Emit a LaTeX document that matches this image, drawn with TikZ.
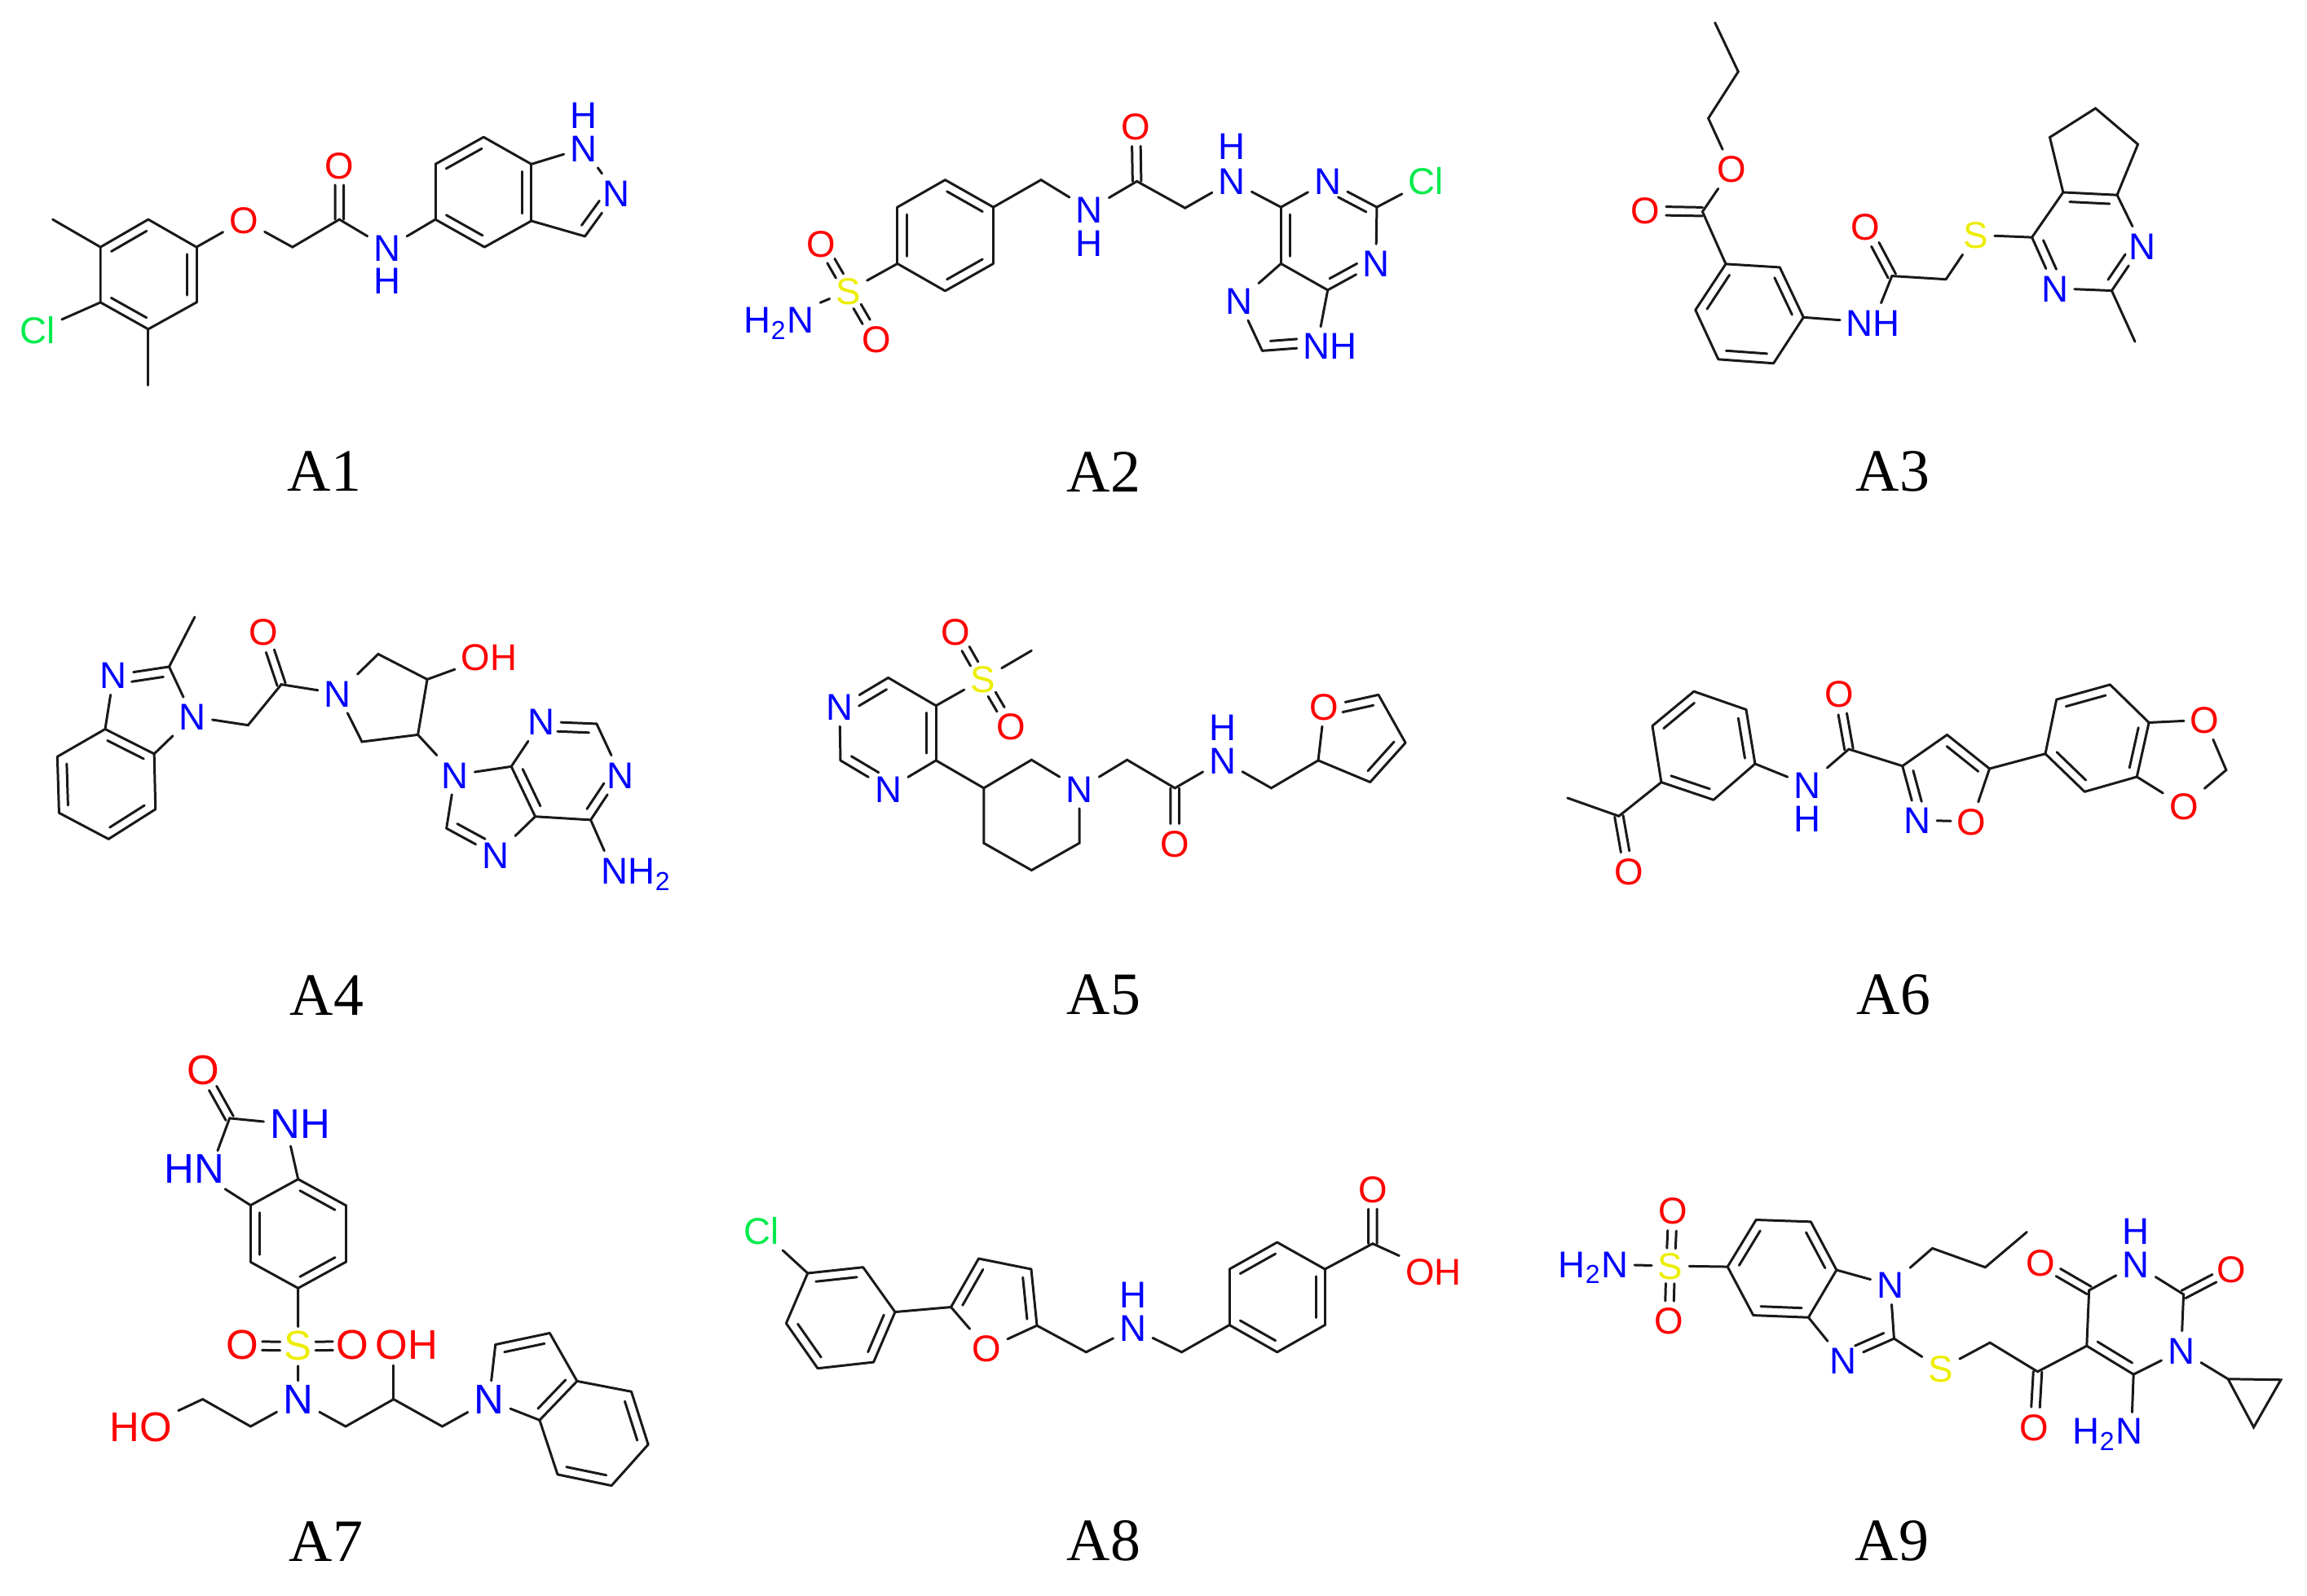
\documentclass[tikz,border=0pt]{standalone}
\usepackage{fontspec}
\setmainfont{Liberation Sans}
\newfontfamily\molfont{Liberation Serif}
\usetikzlibrary{calc}
\definecolor{oxyred}{rgb}{1,0,0}
\definecolor{nitblue}{rgb}{0,0,1}
\definecolor{sulyellow}{rgb}{.93,.93,0}
\definecolor{chlgreen}{rgb}{0,.92,.3}
\def\atomsize{13}
\def\rgap{3.2pt}
\def\cogap{1.5pt}
\tikzset{
  bond/.style={line width=.85pt,line cap=round,color=black!90},
  atom/.style={inner sep=2pt,text height=9.3pt,text depth=0pt,font=\fontsize{\atomsize}{\atomsize}\selectfont},
  oxy/.style={atom,text=oxyred},
  nit/.style={atom,text=nitblue},
  sul/.style={atom,text=sulyellow},
  chl/.style={atom,text=chlgreen},
  molname/.style={font=\molfont\fontsize{21}{21}\selectfont,text=black}
}
% double bonds, the short line on the right or the left of a->b
\newcommand{\dblr}[3][.13]{\draw[bond] (#2) -- (#3);
  \draw[bond] ($(#2)!.13!(#3)!\rgap!-90:(#3)$) -- ($(#3)!#1!(#2)!\rgap!90:(#2)$);}
\newcommand{\dbll}[3][.13]{\draw[bond] (#2) -- (#3);
  \draw[bond] ($(#2)!.13!(#3)!\rgap!90:(#3)$) -- ($(#3)!#1!(#2)!\rgap!-90:(#2)$);}
\newcommand{\dblc}[3][0]{%
  \draw[bond] ($(#2)!#1!(#3)!\cogap!90:(#3)$) -- ($(#3)!.36!(#2)!\cogap!-90:(#2)$);
  \draw[bond] ($(#2)!#1!(#3)!\cogap!-90:(#3)$) -- ($(#3)!.36!(#2)!\cogap!90:(#2)$);}
\begin{document}
\begin{tikzpicture}
[]
\useasboundingbox (0,-19.57) rectangle (28.3,0);

\foreach \t/\x/\y in {A1/3.98/-5.78,A2/13.54/-5.79,A3/23.22/-5.78,A4/4.01/-12.21,A5/13.54/-12.2,A6/23.23/-12.2,A7/4/-18.91,A8/13.54/-18.9,A9/23.21/-18.9}
  \node[molname] (\t) at (\x,\y) {\t};

%A1
\begin{scope}[shift={(0,-.8)},x=.005485cm,y=-.003571cm]
\foreach \n/\x/\y in {1/332/530,2/440/625,3/440/815,4/332/907,5/225/815,6/225/625,7/118/530,8/332/1100,9/655/625,10/760/530,11/975/530,12/1085/625,13/1190/535,14/1190/340,15/1083/247,16/975/340,17/1310/588}
  \coordinate (m1c\n) at (\x,\y);
\node[chl] (m1cl) at (85,910) {Cl};
\node[oxy] (m1o1) at (546,533) {O};
\node[oxy] (m1o2) at (760,345) {O};
\node[nit] (m1n1) at (867,628) {N};
\node[nit] (m1h1) at (867,740) {H};
\node[nit] (m1n2) at (1307,285) {N};
\node[nit] (m1h2) at (1307,172) {H};
\node[nit] (m1n3) at (1380,440) {N};
\dblr{m1c6}{m1c1}
\dblr{m1c2}{m1c3}
\dblr{m1c4}{m1c5}
\draw[bond] (m1c1) -- (m1c2);
\draw[bond] (m1c3) -- (m1c4);
\draw[bond] (m1c5) -- (m1c6) -- (m1c7);
\draw[bond] (m1c4) -- (m1c8);
\draw[bond] (m1c5) -- (m1cl);
\draw[bond] (m1c2) -- (m1o1) -- (m1c9) -- (m1c10) -- (m1n1) -- (m1c11);
\dblc{m1c10}{m1o2}
\dblr{m1c12}{m1c11}
\dblr{m1c14}{m1c13}
\dblr{m1c16}{m1c15}
\draw[bond] (m1c12) -- (m1c13);
\draw[bond] (m1c14) -- (m1c15);
\draw[bond] (m1c16) -- (m1c11);
\draw[bond] (m1c14) -- (m1n2) -- (m1n3);
\dbll[.3]{m1c17}{m1n3}
\draw[bond] (m1c17) -- (m1c13);
\end{scope}

%A2
\begin{scope}[shift={(8.8,-1)},x=.00574cm,y=-.003444cm]
\foreach \n/\x/\y in {1/487/350,2/590/447,3/590/648,4/487/745,5/385/648,6/385/447,7/692/350,8/897/355,9/1000/450,10/1205/447,11/1205/648,12/1305/742,13/1410/447,14/1165/958}
  \coordinate (m2c\n) at (\x,\y);
\coordinate (m2e) at (1290,872);
\node[sul] (m2s) at (280,745) {S};
\node[oxy] (m2o1) at (222,578) {O};
\node[oxy] (m2o2) at (340,917) {O};
\node[oxy] (m2o3) at (895,160) {O};
\node[nit] (m2am) at (132,848) {H\textsubscript{2}N};
\node[nit] (m2n1) at (795,455) {N};
\node[nit] (m2h1) at (795,575) {H};
\node[nit] (m2n2) at (1100,355) {N};
\node[nit] (m2h2) at (1100,230) {H};
\node[nit] (m2n3) at (1305,355) {N};
\node[nit] (m2n4) at (1408,648) {N};
\node[nit] (m2n5) at (1115,780) {N};
\node[nit] (m2nh) at (1310,940) {NH};
\node[chl] (m2cl) at (1515,355) {Cl};
\dblr{m2c1}{m2c2}
\dblr{m2c3}{m2c4}
\dblr{m2c5}{m2c6}
\draw[bond] (m2c2) -- (m2c3);
\draw[bond] (m2c4) -- (m2c5);
\draw[bond] (m2c6) -- (m2c1);
\draw[bond] (m2am) -- (m2s) -- (m2c5);
\dblc[.32]{m2s}{m2o1}
\dblc[.32]{m2s}{m2o2}
\draw[bond] (m2c2) -- (m2c7) -- (m2n1) -- (m2c8) -- (m2c9) -- (m2n2) -- (m2c10) -- (m2n3);
\dblc{m2c8}{m2o3}
\dblr{m2c11}{m2c10}
\dbll[.3]{m2c13}{m2n3}
\dbll[.3]{m2c12}{m2n4}
\draw[bond] (m2c13) -- (m2n4);
\draw[bond] (m2c13) -- (m2cl);
\draw[bond] (m2c12) -- (m2c11) -- (m2n5) -- (m2c14);
\dbll[.48]{m2c14}{m2nh}
\draw[bond] (m2c12) -- (m2e);
\end{scope}

%A3
\begin{scope}[shift={(19.6,0)},x=.005102cm,y=-.004082cm]
\foreach \n/\x/\y in {1/282/68,2/338/215,3/266/355,4/252/635,5/308/792,6/438/802,7/495/952,8/423/1090,9/290/1078,10/235/930,11/708/828,12/838/838,13/1045/712,14/1120/577,15/1250/585,16/1237/872,17/1293/1025,18/1088/412,19/1198/325,20/1300/433}
  \coordinate (m3c\n) at (\x,\y);
\node[oxy] (m3o1) at (322,507) {O};
\node[oxy] (m3o2) at (115,632) {O};
\node[oxy] (m3o3) at (645,680) {O};
\node[nit] (m3nh) at (663,968) {NH};
\node[sul] (m3s) at (910,705) {S};
\node[nit] (m3n1) at (1100,865) {N};
\node[nit] (m3n2) at (1310,738) {N};
\draw[bond] (m3c1) -- (m3c2) -- (m3c3) -- (m3o1) -- (m3c4) -- (m3c5) -- (m3c6);
\dblc{m3c4}{m3o2}
\dblr{m3c6}{m3c7}
\dblr{m3c8}{m3c9}
\dblr{m3c10}{m3c5}
\draw[bond] (m3c7) -- (m3c8);
\draw[bond] (m3c9) -- (m3c10);
\draw[bond] (m3c7) -- (m3nh) -- (m3c11) -- (m3c12) -- (m3s) -- (m3c13) -- (m3c14);
\dblc{m3c11}{m3o3}
\dbll[.3]{m3c13}{m3n1}
\dblr{m3c14}{m3c15}
\dbll[.3]{m3c16}{m3n2}
\draw[bond] (m3c15) -- (m3n2);
\draw[bond] (m3n1) -- (m3c16) -- (m3c17);
\draw[bond] (m3c14) -- (m3c18) -- (m3c19) -- (m3c20) -- (m3c15);
\end{scope}

%A4
\begin{scope}[shift={(.4,-7.3)},x=.00523cm,y=-.003444cm]
\foreach \n/\x/\y in {1/170/477,2/285/565,3/288/762,4/178/868,5/62/775,6/58/575,7/320/255,8/380/78,9/505/463,10/583/318,11/810/210,12/925/300,13/903/497,14/772/522,15/1122/610,16/1178/788,17/1308/800,18/1322/458,19/970/830}
  \coordinate (m4c\n) at (\x,\y);
\coordinate (m4e) at (1340,910);
\node[nit] (m4n1) at (190,285) {N};
\node[nit] (m4n2) at (375,433) {N};
\node[oxy] (m4o1) at (542,132) {O};
\node[nit] (m4n3) at (715,350) {N};
\node[oxy] (m4oh) at (1070,220) {OH};
\node[nit] (m4n4) at (990,640) {N};
\node[nit] (m4n5) at (1192,450) {N};
\node[nit] (m4n6) at (1378,640) {N};
\node[nit] (m4n7) at (1085,925) {N};
\node[nit] (m4am) at (1415,980) {NH\textsubscript{2}};
\dblr{m4c1}{m4c2}
\dblr{m4c3}{m4c4}
\dblr{m4c5}{m4c6}
\draw[bond] (m4c2) -- (m4c3);
\draw[bond] (m4c4) -- (m4c5);
\draw[bond] (m4c6) -- (m4c1) -- (m4n1);
\dbll[.3]{m4c7}{m4n1}
\draw[bond] (m4c8) -- (m4c7) -- (m4n2) -- (m4c2);
\draw[bond] (m4n2) -- (m4c9) -- (m4c10) -- (m4n3);
\dblc{m4c10}{m4o1}
\draw[bond] (m4n3) -- (m4c11) -- (m4c12) -- (m4c13) -- (m4c14) -- (m4n3);
\draw[bond] (m4c12) -- (m4oh);
\draw[bond] (m4c13) -- (m4n4) -- (m4c15) -- (m4n5);
\dblr{m4c16}{m4c15}
\dbll[.3]{m4c18}{m4n5}
\draw[bond] (m4c18) -- (m4n6);
\dbll[.3]{m4c17}{m4n6}
\draw[bond] (m4c17) -- (m4c16) -- (m4n7);
\draw[bond] (m4c17) -- (m4e);
\draw[bond] (m4n4) -- (m4c19);
\dbll[.3]{m4c19}{m4n7}
\end{scope}

%A5
\begin{scope}[shift={(9.8,-7.3)},x=.005102cm,y=-.003333cm]
\foreach \n/\x/\y in {1/215/305,2/330/408,3/330/610,4/100/610,5/445/712,6/560/608,7/445/915,8/560/1015,9/675/915,10/790/608,11/905/712,12/1137/712,13/1250/610,14/1375/690,15/1460/545,16/1395/368,17/560/205}
  \coordinate (m5c\n) at (\x,\y);
\node[nit] (m5n1) at (98,412) {N};
\node[nit] (m5n2) at (215,715) {N};
\node[sul] (m5s) at (443,310) {S};
\node[oxy] (m5o1) at (378,135) {O};
\node[oxy] (m5o2) at (510,485) {O};
\node[nit] (m5n3) at (675,715) {N};
\node[oxy] (m5o3) at (905,918) {O};
\node[nit] (m5n4) at (1020,610) {N};
\node[nit] (m5h) at (1020,487) {H};
\node[oxy] (m5o4) at (1265,412) {O};
\dbll[.3]{m5c1}{m5n1}
\dblr{m5c2}{m5c3}
\dbll[.3]{m5c4}{m5n2}
\draw[bond] (m5c1) -- (m5c2) -- (m5s) -- (m5c17);
\draw[bond] (m5c3) -- (m5n2);
\draw[bond] (m5c4) -- (m5n1);
\dblc[.32]{m5s}{m5o1}
\dblc[.32]{m5s}{m5o2}
\draw[bond] (m5c3) -- (m5c5) -- (m5c6) -- (m5n3) -- (m5c9) -- (m5c8) -- (m5c7) -- (m5c5);
\draw[bond] (m5n3) -- (m5c10) -- (m5c11) -- (m5n4) -- (m5c12) -- (m5c13) -- (m5o4);
\dblc{m5c11}{m5o3}
\dbll[.3]{m5c16}{m5o4}
\draw[bond] (m5c16) -- (m5c15);
\dblr{m5c15}{m5c14}
\draw[bond] (m5c14) -- (m5c13);
\end{scope}

%A6
\begin{scope}[shift={(18.9,-8)},x=.005485cm,y=-.003333cm]
\foreach \n/\x/\y in {1/343/145,2/460/212,3/480/412,4/387/545,5/270/480,6/250/272,7/175/605,8/60/538,9/690/358,10/810/420,11/910/305,12/1005/430,13/1130/375,14/1155/175,15/1275/120,16/1362/260,17/1335/460,18/1218/515,19/1535/435}
  \coordinate (m6c\n) at (\x,\y);
\node[oxy] (m6o1) at (197,810) {O};
\node[nit] (m6n1) at (597,490) {N};
\node[nit] (m6h1) at (597,615) {H};
\node[oxy] (m6o2) at (668,155) {O};
\node[nit] (m6n2) at (843,620) {N};
\node[oxy] (m6o3) at (965,625) {O};
\node[oxy] (m6o4) at (1487,250) {O};
\node[oxy] (m6o5) at (1440,568) {O};
\dblr{m6c2}{m6c3}
\dblr{m6c4}{m6c5}
\dblr{m6c6}{m6c1}
\draw[bond] (m6c1) -- (m6c2);
\draw[bond] (m6c3) -- (m6c4);
\draw[bond] (m6c5) -- (m6c6);
\draw[bond] (m6c5) -- (m6c7) -- (m6c8);
\dblc{m6c7}{m6o1}
\draw[bond] (m6c3) -- (m6n1) -- (m6c9) -- (m6c10) -- (m6c11);
\dblc{m6c9}{m6o2}
\dblr{m6c11}{m6c12}
\dbll[.3]{m6c10}{m6n2}
\draw[bond] (m6n2) -- (m6o3) -- (m6c12) -- (m6c13) -- (m6c14);
\dblr{m6c14}{m6c15}
\dblr{m6c16}{m6c17}
\dblr{m6c18}{m6c13}
\draw[bond] (m6c15) -- (m6c16);
\draw[bond] (m6c17) -- (m6c18);
\draw[bond] (m6c16) -- (m6o4) -- (m6c19) -- (m6o5) -- (m6c17);
\end{scope}

%A7
\begin{scope}[shift={(1.2,-12.8)},x=.004592cm,y=-.004273cm]
\def\atomsize{14.5}
\foreach \n/\x/\y in {1/535/390,2/662/465,3/662/628,4/535/703,5/408/628,6/408/465,7/352/215,8/408/1100,9/280/1022,10/662/1100,11/790/1022,12/920/1100,13/1062/865,14/1207/832,15/1280/970,16/1180/1082,17/1425/1000,18/1470/1152,19/1372/1270,20/1228/1238}
  \coordinate (m7c\n) at (\x,\y);
\coordinate (m7e1) at (320,308);
\coordinate (m7e2) at (515,295);
\coordinate (m7e3) at (790,925);
\node[oxy] (m7o1) at (282,80) {O};
\node[nit] (m7nh) at (540,235) {NH};
\node[nit] (m7hn) at (258,362) {HN};
\node[sul] (m7s) at (535,870) {S};
\node[oxy] (m7o2) at (385,868) {O};
\node[oxy] (m7o3) at (680,868) {O};
\node[nit] (m7n1) at (535,1025) {N};
\node[oxy] (m7oh) at (825,868) {OH};
\node[oxy] (m7ho) at (115,1105) {HO};
\node[nit] (m7n2) at (1045,1025) {N};
\dblr{m7c1}{m7c2}
\dblr{m7c3}{m7c4}
\dblr{m7c5}{m7c6}
\draw[bond] (m7c2) -- (m7c3);
\draw[bond] (m7c4) -- (m7c5);
\draw[bond] (m7c6) -- (m7c1) -- (m7e2);
\draw[bond] (m7c6) -- (m7hn);
\draw[bond] (m7e1) -- (m7c7) -- (m7nh);
\dblc{m7c7}{m7o1}
\draw[bond] (m7c4) -- (m7s) -- (m7n1) -- (m7c8) -- (m7c9) -- (m7ho);
\dblc[.32]{m7s}{m7o2}
\dblc[.32]{m7s}{m7o3}
\draw[bond] (m7n1) -- (m7c10) -- (m7c11) -- (m7c12) -- (m7n2) -- (m7c13);
\draw[bond] (m7c11) -- (m7e3);
\dblr{m7c13}{m7c14}
\draw[bond] (m7c14) -- (m7c15);
\dblr{m7c15}{m7c16}
\draw[bond] (m7c16) -- (m7n2);
\draw[bond] (m7c15) -- (m7c17);
\dblr{m7c17}{m7c18}
\draw[bond] (m7c18) -- (m7c19);
\dblr{m7c19}{m7c20}
\draw[bond] (m7c20) -- (m7c16);
\end{scope}

%A8
\begin{scope}[shift={(8.9,-14)},x=.005867cm,y=-.003333cm]
\foreach \n/\x/\y in {1/172/487,2/288/465,3/355/630,4/310/815,5/193/838,6/127/672,7/472/612,8/530/433,9/640/472,10/652/680,11/755/778,12/955/778,13/1055/678,14/1055/472,15/1155/373,16/1255/472,17/1255/678,18/1155/778,19/1355/378}
  \coordinate (m8c\n) at (\x,\y);
\node[chl] (m8cl) at (75,330) {Cl};
\node[oxy] (m8o1) at (547,765) {O};
\node[nit] (m8n1) at (853,690) {N};
\node[nit] (m8h1) at (853,565) {H};
\node[oxy] (m8o2) at (1355,178) {O};
\node[oxy] (m8oh) at (1482,480) {OH};
\draw[bond] (m8cl) -- (m8c1);
\dblr{m8c1}{m8c2}
\dblr{m8c3}{m8c4}
\dblr{m8c5}{m8c6}
\draw[bond] (m8c2) -- (m8c3) -- (m8c7);
\draw[bond] (m8c4) -- (m8c5);
\draw[bond] (m8c6) -- (m8c1);
\dblr{m8c7}{m8c8}
\draw[bond] (m8c8) -- (m8c9);
\dblr{m8c9}{m8c10}
\draw[bond] (m8c7) -- (m8o1) -- (m8c10) -- (m8c11) -- (m8n1) -- (m8c12) -- (m8c13);
\dblr{m8c14}{m8c15}
\dblr{m8c16}{m8c17}
\dblr{m8c18}{m8c13}
\draw[bond] (m8c13) -- (m8c14);
\draw[bond] (m8c15) -- (m8c16);
\draw[bond] (m8c17) -- (m8c18);
\draw[bond] (m8c16) -- (m8c19) -- (m8oh);
\dblc{m8c19}{m8o2}
\end{scope}

%A9
\begin{scope}[shift={(19,-14.2)},x=.00574cm,y=-.003333cm]
\foreach \n/\x/\y in {1/382/403,2/443/230,3/560/237,4/615/415,5/555/590,6/437/582,7/738/668,8/820/335,9/933/405,10/1022/275,11/943/683,12/1045/790,13/1150/695,14/1250/800,15/1155/490,16/1357/505,17/1452/817,18/1565/820,19/1507/995}
  \coordinate (m9c\n) at (\x,\y);
\coordinate (m9e) at (1247,940);
\node[nit] (m9am1) at (95,393) {H\textsubscript{2}N};
\node[sul] (m9s1) at (260,400) {S};
\node[oxy] (m9o1) at (265,197) {O};
\node[oxy] (m9o2) at (257,602) {O};
\node[nit] (m9n1) at (730,470) {N};
\node[nit] (m9n2) at (630,750) {N};
\node[sul] (m9s2) at (838,780) {S};
\node[oxy] (m9o3) at (1038,995) {O};
\node[nit] (m9am2) at (1195,1008) {H\textsubscript{2}N};
\node[nit] (m9n3) at (1255,395) {N};
\node[nit] (m9h3) at (1255,272) {H};
\node[oxy] (m9o4) at (1052,387) {O};
\node[oxy] (m9o5) at (1460,412) {O};
\node[nit] (m9n4) at (1352,712) {N};
\draw[bond] (m9am1) -- (m9s1) -- (m9c1);
\dblc[.32]{m9s1}{m9o1}
\dblc[.32]{m9s1}{m9o2}
\dblr{m9c1}{m9c2}
\dblr{m9c3}{m9c4}
\dblr{m9c5}{m9c6}
\draw[bond] (m9c2) -- (m9c3);
\draw[bond] (m9c4) -- (m9c5);
\draw[bond] (m9c6) -- (m9c1);
\draw[bond] (m9c4) -- (m9n1) -- (m9c7);
\dblr[.3]{m9c7}{m9n2}
\draw[bond] (m9n2) -- (m9c5);
\draw[bond] (m9n1) -- (m9c8) -- (m9c9) -- (m9c10);
\draw[bond] (m9c7) -- (m9s2) -- (m9c11) -- (m9c12) -- (m9c13) -- (m9c15) -- (m9n3) -- (m9c16) -- (m9n4) -- (m9c14);
\dblc{m9c12}{m9o3}
\dblc{m9c15}{m9o4}
\dblc{m9c16}{m9o5}
\dblr{m9c14}{m9c13}
\draw[bond] (m9c14) -- (m9e);
\draw[bond] (m9n4) -- (m9c17) -- (m9c18) -- (m9c19) -- (m9c17);
\end{scope}

\end{tikzpicture}
\end{document}
